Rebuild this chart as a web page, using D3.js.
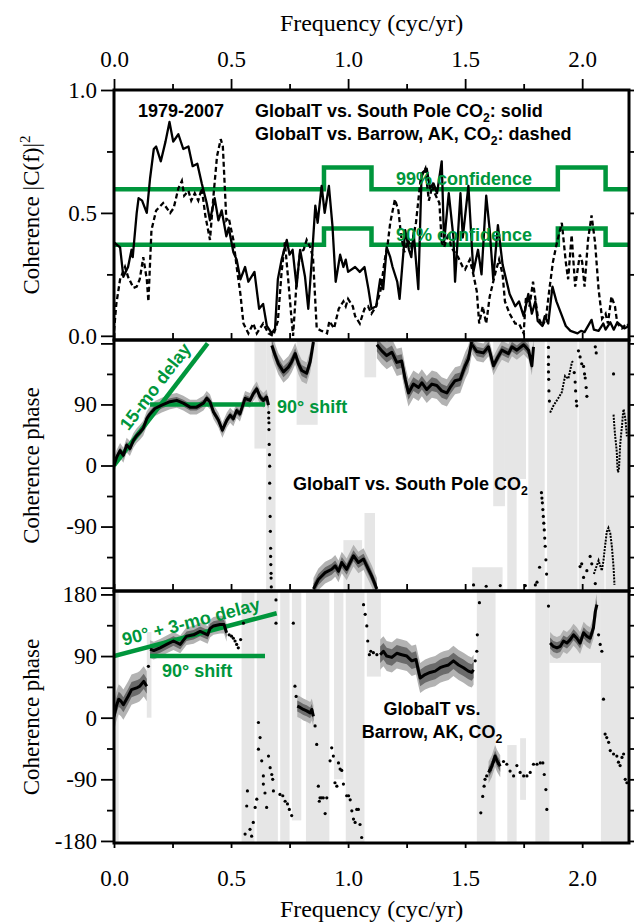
<!DOCTYPE html>
<html>
<head>
<meta charset="utf-8">
<script src="https://cdn.jsdelivr.net/npm/d3@7"></script>
<style>
  body { margin: 0; background: #fff; }
  svg text { font-family: "Liberation Serif", "DejaVu Serif", "Times New Roman", Times, serif; }
  svg text.ann { font-family: "Liberation Sans", Arial, Helvetica, sans-serif; font-weight: bold; }
</style>
</head>
<body>
<svg id="chart" width="639" height="923"></svg>
<script>
// ---- data (frequency in cyc/yr) ----
const freqTicks = [0, 0.5, 1.0, 1.5, 2.0];
const freqMinor = [0.25, 0.75, 1.25, 1.75];
const cohTicks = [0, 0.5, 1.0];
const cohMinor = [0.25, 0.75];
const phaseTicks = [-180, -90, 0, 90, 180];
const phaseMinor = [-135, -45, 45, 135];

// coherence, GlobalT vs South Pole CO2 (solid)
const cohSouthPole = [[0,0.38],[0.026,0.36],[0.04,0.24],[0.06,0.28],[0.075,0.35],[0.08,0.32],[0.097,0.50],[0.105,0.56],[0.12,0.55],[0.14,0.50],[0.154,0.64],[0.17,0.76],[0.18,0.77],[0.2,0.71],[0.22,0.79],[0.237,0.87],[0.253,0.79],[0.275,0.82],[0.296,0.76],[0.318,0.77],[0.336,0.69],[0.356,0.70],[0.375,0.62],[0.396,0.54],[0.41,0.47],[0.43,0.56],[0.446,0.47],[0.46,0.51],[0.48,0.405],[0.49,0.44],[0.51,0.34],[0.524,0.31],[0.54,0.23],[0.56,0.28],[0.574,0.22],[0.60,0.26],[0.62,0.11],[0.637,0.13],[0.653,0.04],[0.674,0.01],[0.688,0.03],[0.70,0.23],[0.716,0.31],[0.738,0.39],[0.75,0.33],[0.763,0.35],[0.78,0.20],[0.795,0.35],[0.816,0.24],[0.83,0.11],[0.845,0.31],[0.86,0.53],[0.87,0.46],[0.887,0.61],[0.90,0.50],[0.918,0.61],[0.933,0.45],[0.947,0.22],[0.966,0.33],[0.98,0.28],[0.99,0.31],[1.0,0.26],[1.03,0.28],[1.05,0.26],[1.07,0.28],[1.087,0.19],[1.10,0.11],[1.12,0.12],[1.137,0.23],[1.15,0.19],[1.165,0.36],[1.18,0.32],[1.19,0.28],[1.21,0.22],[1.22,0.15],[1.244,0.43],[1.26,0.35],[1.27,0.32],[1.28,0.42],[1.30,0.19],[1.314,0.66],[1.336,0.68],[1.35,0.60],[1.365,0.62],[1.38,0.58],[1.40,0.71],[1.41,0.38],[1.43,0.58],[1.45,0.40],[1.457,0.22],[1.48,0.58],[1.49,0.40],[1.514,0.61],[1.535,0.26],[1.555,0.35],[1.57,0.25],[1.59,0.57],[1.605,0.43],[1.62,0.23],[1.64,0.45],[1.66,0.29],[1.67,0.25],[1.69,0.17],[1.714,0.12],[1.73,0.14],[1.75,0.08],[1.77,0.17],[1.785,0.09],[1.80,0.14],[1.81,0.06],[1.83,0.04],[1.84,0.08],[1.855,0.05],[1.873,0.20],[1.89,0.14],[1.91,0.09],[1.93,0.04],[1.95,0.02],[1.98,0.01],[1.995,0.02],[2.01,0.015],[2.04,0.065],[2.05,0.025],[2.07,0.02],[2.09,0.05],[2.10,0.025],[2.12,0.055],[2.135,0.025],[2.15,0.055],[2.18,0.03],[2.2,0.04]];

// coherence, GlobalT vs Barrow CO2 (dashed)
const cohBarrow = [[0,0.02],[0.01,0.13],[0.026,0.23],[0.047,0.28],[0.06,0.24],[0.083,0.195],[0.097,0.20],[0.11,0.23],[0.125,0.32],[0.14,0.23],[0.147,0.14],[0.16,0.43],[0.18,0.51],[0.21,0.54],[0.24,0.50],[0.255,0.52],[0.275,0.60],[0.29,0.63],[0.30,0.57],[0.318,0.59],[0.33,0.55],[0.345,0.58],[0.36,0.55],[0.375,0.60],[0.39,0.49],[0.41,0.39],[0.425,0.57],[0.44,0.73],[0.456,0.80],[0.465,0.77],[0.48,0.47],[0.49,0.48],[0.51,0.39],[0.524,0.28],[0.54,0.17],[0.553,0.05],[0.574,0.01],[0.595,0.05],[0.61,0.01],[0.637,0.05],[0.66,0.01],[0.68,0.0],[0.70,0.06],[0.716,0.26],[0.73,0.38],[0.745,0.22],[0.76,0.05],[0.765,0.0],[0.78,0.22],[0.795,0.34],[0.81,0.35],[0.823,0.39],[0.838,0.36],[0.85,0.32],[0.866,0.03],[0.887,0.02],[0.91,0.01],[0.92,0.06],[0.94,0.03],[0.96,0.11],[0.98,0.14],[0.99,0.12],[1.0,0.15],[1.02,0.12],[1.03,0.08],[1.05,0.05],[1.07,0.11],[1.085,0.12],[1.10,0.09],[1.12,0.12],[1.14,0.19],[1.155,0.30],[1.17,0.38],[1.18,0.46],[1.20,0.555],[1.215,0.51],[1.226,0.41],[1.24,0.34],[1.256,0.39],[1.27,0.36],[1.29,0.46],[1.31,0.64],[1.33,0.68],[1.345,0.55],[1.36,0.61],[1.37,0.58],[1.39,0.54],[1.40,0.38],[1.41,0.36],[1.43,0.42],[1.44,0.36],[1.47,0.32],[1.49,0.28],[1.50,0.27],[1.52,0.31],[1.535,0.25],[1.55,0.18],[1.56,0.05],[1.575,0.12],[1.59,0.05],[1.605,0.16],[1.63,0.26],[1.645,0.31],[1.66,0.25],[1.67,0.14],[1.69,0.09],[1.714,0.05],[1.73,0.05],[1.75,0.01],[1.76,0.16],[1.775,0.12],[1.79,0.22],[1.81,0.08],[1.83,0.04],[1.845,0.07],[1.86,0.19],[1.875,0.30],[1.89,0.37],[1.913,0.46],[1.93,0.30],[1.94,0.23],[1.955,0.41],[1.97,0.20],[1.99,0.33],[2.0,0.30],[2.01,0.20],[2.025,0.39],[2.04,0.49],[2.055,0.38],[2.07,0.19],[2.085,0.07],[2.10,0.09],[2.11,0.05],[2.125,0.16],[2.14,0.12],[2.15,0.05],[2.17,0.03],[2.19,0.05],[2.2,0.04]];

// confidence levels (step breakpoints)
const conf99 = [[0,0.596],[0.897,0.685],[1.10,0.596],[1.896,0.685],[2.10,0.596],[2.2,0.596]];
const conf90 = [[0,0.37],[0.897,0.437],[1.10,0.37],[1.896,0.437],[2.10,0.37],[2.2,0.37]];

// phase, GlobalT vs South Pole CO2 (degrees)
const spCurves = [
  [[0,0],[0.011,12],[0.026,22],[0.04,15],[0.054,30],[0.068,25],[0.083,37],[0.097,44],[0.111,49],[0.125,55],[0.14,69],[0.154,76],[0.175,84],[0.204,89],[0.239,94],[0.268,96],[0.296,92],[0.325,86],[0.353,86],[0.382,92],[0.396,99],[0.41,94],[0.425,79],[0.446,67],[0.463,52],[0.482,67],[0.496,74],[0.51,69],[0.524,81],[0.538,76],[0.56,99],[0.581,96],[0.595,106],[0.61,113],[0.624,101],[0.638,96],[0.652,101],[0.66,89]],
  [[0.674,177],[0.688,163],[0.702,150],[0.724,138],[0.745,145],[0.759,153],[0.774,165],[0.788,150],[0.802,140],[0.823,136],[0.838,153],[0.852,182]],
  [[0.852,-182],[0.873,-168],[0.902,-158],[0.93,-153],[0.945,-148],[0.959,-156],[0.973,-143],[0.994,-153],[1.023,-133],[1.044,-143],[1.066,-138],[1.087,-153],[1.101,-163],[1.123,-182]],
  [[1.123,178],[1.144,169],[1.165,162],[1.187,167],[1.208,152],[1.229,154],[1.244,127],[1.258,107],[1.279,120],[1.301,115],[1.315,122],[1.336,112],[1.358,120],[1.379,118],[1.40,110],[1.422,107],[1.436,115],[1.457,125],[1.479,127],[1.50,147],[1.514,157],[1.528,182]],
  [[1.53,178],[1.55,168],[1.578,166],[1.60,175],[1.621,147],[1.64,160],[1.657,170],[1.685,165],[1.70,175],[1.721,170],[1.75,178],[1.771,170],[1.785,147],[1.792,175]]
];
const spThin = [
  [[1.863,78],[1.877,88],[1.899,100],[1.913,108],[1.927,132],[1.941,128],[1.956,152],[1.963,155]],
  [[2.134,75],[2.138,55],[2.141,43],[2.145,30],[2.148,19],[2.150,0],[2.153,-10],[2.157,-6],[2.160,15],[2.162,29],[2.166,45],[2.170,58],[2.174,75],[2.177,83],[2.181,75],[2.184,70],[2.188,55],[2.191,43]],
  [[2.05,-160],[2.06,-150],[2.07,-140],[2.077,-148],[2.084,-155],[2.091,-140],[2.098,-118],[2.105,-98],[2.112,-92],[2.12,-100],[2.127,-120],[2.134,-150],[2.138,-176]]
];
const spDots = [[0.661,78],[0.661,70],[0.662,63],[0.662,53],[0.663,31],[0.664,16],[0.665,-1],[0.665,-26],[0.666,-48],[0.667,-75],[0.668,-97],[0.669,-122],[0.669,-134],[0.670,-146],[0.671,-159],[0.671,-166],[0.672,-179],
  [1.536,-176],[1.59,-178],[1.65,-177],[1.757,-177],[1.80,-176],[1.807,-172],[1.818,-150],
  [1.826,-40],[1.828,-48],[1.830,-55],[1.832,-65],[1.834,-75],[1.836,-85],[1.838,-95],[1.840,-107],[1.842,-119],[1.845,-139],[1.848,-160],
  [1.856,174],[1.856,160],[1.856,149],[1.856,138],[1.857,127],[1.858,110],[1.86,95],
  [1.966,137],[1.970,123],[1.972,110],[1.975,95],[1.977,88],[1.984,169],[1.991,160],[1.998,150],[2.006,146],[2.010,135],[2.013,129],[2.017,115],[2.020,102],[2.056,175],[2.060,166],[2.134,135],
  [1.991,-149],[1.998,-145],[2.006,-165],[2.020,-155],[2.034,-134],[2.041,-145],[2.056,-174]];
const spBands = [[0.60,0.65,25,185],[0.65,0.69,-185,185],[0.78,0.87,60,185],[0.98,1.06,-185,-110],[1.07,1.115,-185,-70],[1.07,1.12,130,185],[1.53,1.66,-185,-150],[1.62,1.67,-60,185],[1.67,1.76,-20,185],[1.68,1.72,-185,-20],[1.77,1.84,-185,185],[1.85,1.98,-185,185],[1.985,2.095,-185,185],[2.10,2.2,-185,185]];

// phase, GlobalT vs Barrow CO2 (degrees)
const brCurves = [
  [[0,2],[0.01,17],[0.02,27],[0.03,24],[0.04,19],[0.06,31],[0.075,41],[0.10,44],[0.11,46],[0.127,53],[0.14,46]],
  [[0.154,100],[0.17,98],[0.197,102],[0.225,107],[0.254,112],[0.283,107],[0.31,119],[0.34,121],[0.368,126],[0.40,121],[0.41,130],[0.425,134],[0.453,136],[0.47,136],[0.481,124]],
  [[0.783,17],[0.795,15],[0.809,12],[0.823,10],[0.838,7],[0.845,12],[0.852,2]],
  [[1.137,92],[1.151,97],[1.165,90],[1.187,88],[1.208,94],[1.229,92],[1.251,90],[1.272,83],[1.29,85],[1.301,68],[1.308,58],[1.329,63],[1.350,66],[1.372,68],[1.393,73],[1.408,75],[1.429,77],[1.450,83],[1.472,77],[1.493,73],[1.514,68],[1.528,66],[1.536,70]],
  [[1.60,-80],[1.614,-71],[1.628,-56],[1.636,-63],[1.650,-71]],
  [[1.863,109],[1.877,104],[1.892,102],[1.906,104],[1.920,112],[1.935,109],[1.949,114],[1.963,121],[1.977,116],[1.991,109],[2.006,124],[2.020,119],[2.034,116],[2.048,131],[2.056,155],[2.063,165]]
];
const brDots = [[0.147,75],[0.492,121],[0.502,119],[0.51,116],[0.517,112],[0.524,107],[0.531,102],[0.541,114],
  [0.553,138],[0.560,-170],[0.567,-129],[0.570,-107],[0.581,-163],[0.588,-173],[0.595,-153],[0.603,-131],[0.610,-119],[0.617,-46],[0.617,-7],[0.624,-29],[0.631,-63],[0.638,-85],[0.638,-97],[0.645,-110],[0.652,-131],[0.660,-56],[0.667,-73],[0.674,-83],[0.678,-90],[0.681,-107],[0.692,138],[0.692,172],[0.709,-112],[0.721,-114],[0.731,-122],[0.741,-126],[0.749,-134],[0.759,-143],[0.766,138],[0.773,46],[0.778,31],
  [0.859,-12],[0.866,-39],[0.873,-100],[0.877,-122],[0.880,-117],[0.887,-117],[0.894,-117],[0.902,-140],[0.909,-117],[0.923,-63],[0.930,-44],[0.937,-56],[0.944,-95],[0.952,-100],[0.959,-66],[0.966,-75],[0.973,-77],[0.980,-97],[0.994,-114],[1.002,-114],[1.009,-120],[1.016,-136],[1.023,-148],[1.030,-153],[1.037,-134],[1.044,-134],[1.051,-156],[1.058,-175],[1.066,165],[1.073,151],[1.080,134],[1.084,112],[1.091,92],[1.097,97],[1.108,95],[1.123,92],
  [1.543,83],[1.550,97],[1.552,121],[1.561,168],[1.567,-139],[1.575,-115],[1.581,-100],[1.585,-90],[1.592,-85],[1.607,-76],[1.621,-64],[1.643,-67],[1.664,-64],[1.678,-68],[1.692,-78],[1.707,-85],[1.721,-70],[1.735,-80],[1.75,-85],[1.764,-85],[1.778,-80],[1.792,-68],[1.807,-68],[1.821,-66],[1.832,-66],[1.838,-83],[1.845,-105],[1.849,-134],[1.856,163],
  [2.070,121],[2.077,107],[2.084,97],[2.091,27],[2.098,-24],[2.105,-29],[2.113,-36],[2.120,-48],[2.134,-53],[2.148,-56],[2.155,-65],[2.162,-70],[2.170,-58],[2.177,-53],[2.184,-90],[2.191,-95]];
const brBands = [[0.0,0.02,-183,185],[0.14,0.16,0,125],[0.545,0.60,-183,185],[0.61,0.70,-183,185],[0.71,0.75,-183,185],[0.76,0.80,-150,185],[0.82,0.92,-183,185],[0.94,0.98,-90,185],[0.99,1.07,-183,185],[1.08,1.14,60,185],[1.55,1.63,-183,185],[1.68,1.72,-183,-40],[1.735,1.76,-120,-30],[1.80,1.86,-183,185],[1.86,2.08,80,185],[2.08,2.2,-183,185]];

// reference lines
const delaySp = [[0,0],[0.4,180]];        // 15-month delay
const shiftSp = [[0.154,90],[0.645,90]];
const delayBr = [[0,90],[0.695,152.5]];    // 90 deg + 3-month delay
const shiftBr = [[0.154,90],[0.645,90]];

// ---- layout ----
const svg = d3.select("#chart");
const green = "#00963c";
const serif = "'Liberation Serif', 'DejaVu Serif', 'Times New Roman', Times, serif";
const x = d3.scaleLinear().domain([0, 2.2]).range([114, 629]);
const yCoh = d3.scaleLinear().domain([-0.017, 1]).range([340, 90]);
const ySp = d3.scaleLinear().domain([-185, 185]).range([591, 340]);
const yBr = d3.scaleLinear().domain([-183, 185]).range([843, 591]);
// envelope half-widths (outer, inner) in degrees, one per curve
const spEnv = [[11, 5], [16, 8], [16, 8], [20, 10], [14, 7]];
const brEnv = [[22, 11], [13, 7], [16, 8], [22, 12], [16, 8], [16, 8]];

function addClip(id, y) {
  svg.append("clipPath").attr("id", id).append("rect")
    .attr("x", x.range()[0]).attr("y", y.range()[1])
    .attr("width", x.range()[1] - x.range()[0])
    .attr("height", y.range()[0] - y.range()[1]);
}
addClip("cCoh", yCoh); addClip("cSp", ySp); addClip("cBr", yBr);

function subText(sel, parts) {
  let shift = 0;
  parts.forEach(([t, sub]) => {
    const ts = sel.append("tspan").text(t);
    if (sub) { ts.attr("font-size", "0.68em").attr("dy", 5); shift = 5; }
    else if (shift) { ts.attr("dy", -shift); shift = 0; }
  });
}

// ---- coherence panel ----
const gc = svg.append("g").attr("clip-path", "url(#cCoh)");
const step = d3.line().x(d => x(d[0])).y(d => yCoh(d[1])).curve(d3.curveStepAfter);
[conf99, conf90].forEach(c => gc.append("path").datum(c).attr("d", step)
  .attr("fill", "none").attr("stroke", green).attr("stroke-width", 4.5));
svg.append("text").attr("class", "ann").attr("x", 464).attr("y", 185).attr("text-anchor", "middle")
  .attr("font-size", 18).attr("fill", green).text("99% confidence");
svg.append("text").attr("class", "ann").attr("x", 464).attr("y", 241).attr("text-anchor", "middle")
  .attr("font-size", 18).attr("fill", green).text("90% confidence");
const cohLine = d3.line().x(d => x(d[0])).y(d => yCoh(d[1]));
gc.append("path").datum(cohBarrow).attr("d", cohLine).attr("fill", "none")
  .attr("stroke", "#000").attr("stroke-width", 2.3).attr("stroke-dasharray", "5,3");
gc.append("path").datum(cohSouthPole).attr("d", cohLine).attr("fill", "none")
  .attr("stroke", "#000").attr("stroke-width", 2.3).attr("stroke-linejoin", "round");

svg.append("text").attr("class", "ann").attr("x", 138).attr("y", 117).attr("font-size", 18).text("1979-2007");
subText(svg.append("text").attr("class", "ann").attr("x", 255).attr("y", 117).attr("font-size", 18),
  [["GlobalT vs. South Pole CO"], ["2", true], [": solid"]]);
subText(svg.append("text").attr("class", "ann").attr("x", 255).attr("y", 140).attr("font-size", 18),
  [["GlobalT vs. Barrow, AK, CO"], ["2", true], [": dashed"]]);

// ---- phase panels ----
function phasePanel(clipId, y, bands, curves, envW, thin, dots) {
  const g = svg.append("g").attr("clip-path", `url(#${clipId})`);
  g.selectAll("rect").data(bands).join("rect")
    .attr("x", d => x(d[0])).attr("width", d => x(d[1]) - x(d[0]))
    .attr("y", d => y(d[3])).attr("height", d => y(d[2]) - y(d[3]))
    .attr("fill", "#e6e6e6");
  const env = w => d3.area().x(d => x(d[0])).y0(d => y(d[1] - w)).y1(d => y(d[1] + w));
  curves.forEach((c, i) => {
    g.append("path").datum(c).attr("d", env(envW[i][0])).attr("fill", "#b3b3b3");
    g.append("path").datum(c).attr("d", env(envW[i][1])).attr("fill", "#6b6b6b");
  });
  const gl = svg.append("g").attr("clip-path", `url(#${clipId})`);
  const gk = svg.append("g").attr("clip-path", `url(#${clipId})`);
  const ln = d3.line().x(d => x(d[0])).y(d => y(d[1]));
  curves.forEach(c => gk.append("path").datum(c).attr("d", ln).attr("fill", "none")
    .attr("stroke", "#000").attr("stroke-width", 3).attr("stroke-linejoin", "round"));
  thin.forEach(c => gk.append("path").datum(c).attr("d", ln).attr("fill", "none")
    .attr("stroke", "#000").attr("stroke-width", 2).attr("stroke-dasharray", "2,1.2"));
  gk.selectAll("circle").data(dots).join("circle")
    .attr("cx", d => x(d[0])).attr("cy", d => y(d[1])).attr("r", 1.6).attr("fill", "#000");
  return gl;
}

function greenLine(g, y, data) {
  g.append("path").datum(data)
    .attr("d", d3.line().x(d => x(d[0])).y(d => y(d[1])))
    .attr("stroke", green).attr("stroke-width", 4.5).attr("fill", "none");
}
function angleOf(y, data) {
  return Math.atan2(y(data[1][1]) - y(data[0][1]), x(data[1][0]) - x(data[0][0])) * 180 / Math.PI;
}

const glSp = phasePanel("cSp", ySp, spBands, spCurves, spEnv, spThin, spDots);
greenLine(glSp, ySp, delaySp);
greenLine(glSp, ySp, shiftSp);
svg.append("text").attr("class", "ann").attr("font-size", 18).attr("fill", green)
  .attr("transform", `translate(${x(0.062)},${ySp(50)}) rotate(${angleOf(ySp, delaySp)})`)
  .text("15-mo delay");
svg.append("text").attr("class", "ann").attr("font-size", 18).attr("fill", green)
  .attr("x", 277).attr("y", 413).text("90° shift");
subText(svg.append("text").attr("class", "ann").attr("x", 293).attr("y", 490).attr("font-size", 18),
  [["GlobalT vs. South Pole CO"], ["2", true]]);

const glBr = phasePanel("cBr", yBr, brBands, brCurves, brEnv, [], brDots);
greenLine(glBr, yBr, delayBr);
greenLine(glBr, yBr, shiftBr);
svg.append("text").attr("class", "ann").attr("font-size", 18).attr("fill", green)
  .attr("transform", `translate(${x(0.043)},${yBr(105)}) rotate(${angleOf(yBr, delayBr)})`)
  .text("90° + 3-mo delay");
svg.append("text").attr("class", "ann").attr("font-size", 18).attr("fill", green)
  .attr("x", 162).attr("y", 677).text("90° shift");
svg.append("text").attr("class", "ann").attr("x", 432).attr("y", 715).attr("font-size", 18)
  .attr("text-anchor", "middle").text("GlobalT vs.");
subText(svg.append("text").attr("class", "ann").attr("x", 432).attr("y", 738).attr("font-size", 18)
  .attr("text-anchor", "middle"), [["Barrow, AK, CO"], ["2", true]]);

// ---- axes ----
function styleAxis(g) {
  g.attr("font-family", null);
  g.select(".domain").remove();
  g.selectAll("line").attr("stroke", "#000").attr("stroke-width", 1.8);
  g.selectAll("text").attr("font-size", 23).attr("fill", "#000").style("font-family", serif);
  return g;
}
function yAxes(y, major, minor, fmt, labels) {
  svg.append("g").attr("transform", `translate(${x.range()[0]},0)`)
    .call(d3.axisLeft(y).tickValues(major).tickSize(13).tickPadding(4)
      .tickFormat(d => labels.includes(d) ? fmt(d) : "")).call(styleAxis);
  svg.append("g").attr("transform", `translate(${x.range()[0]},0)`)
    .call(d3.axisLeft(y).tickValues(minor).tickSize(7).tickFormat("")).call(styleAxis);
  svg.append("g").attr("transform", `translate(${x.range()[1]},0)`)
    .call(d3.axisRight(y).tickValues(major.concat(minor)).tickSize(5).tickFormat("")).call(styleAxis);
}
yAxes(yCoh, cohTicks, cohMinor, d3.format(".1f"), cohTicks);
yAxes(ySp, phaseTicks, phaseMinor, d => String(d), [-90, 0, 90]);
yAxes(yBr, phaseTicks, phaseMinor, d => String(d), phaseTicks);

const allFreq = freqTicks.concat(freqMinor);
svg.append("g").attr("transform", `translate(0,${yCoh.range()[1]})`)
  .call(d3.axisTop(x).tickValues(freqTicks).tickSize(11).tickPadding(12).tickFormat(d3.format(".1f"))).call(styleAxis);
svg.append("g").attr("transform", `translate(0,${yCoh.range()[1]})`)
  .call(d3.axisTop(x).tickValues(freqMinor).tickSize(6).tickFormat("")).call(styleAxis);
[ySp.range()[1], yBr.range()[1]].forEach(yy =>
  svg.append("g").attr("transform", `translate(0,${yy})`)
    .call(d3.axisTop(x).tickValues(allFreq).tickSize(7).tickFormat("")).call(styleAxis));
svg.append("g").attr("transform", `translate(0,${yBr.range()[0]})`)
  .call(d3.axisBottom(x).tickValues(freqTicks).tickSize(5).tickPadding(22).tickFormat(d3.format(".1f"))).call(styleAxis);
svg.append("g").attr("transform", `translate(0,${yBr.range()[0]})`)
  .call(d3.axisBottom(x).tickValues(freqMinor).tickSize(5).tickFormat("")).call(styleAxis);

// frames
[yCoh, ySp, yBr].forEach(y => svg.append("rect")
  .attr("x", x.range()[0]).attr("y", y.range()[1])
  .attr("width", x.range()[1] - x.range()[0]).attr("height", y.range()[0] - y.range()[1])
  .attr("fill", "none").attr("stroke", "#000").attr("stroke-width", 3));

// titles
const midX = (x.range()[0] + x.range()[1]) / 2;
svg.append("text").attr("x", midX).attr("y", 31).attr("text-anchor", "middle").attr("font-size", 24)
  .style("font-family", serif).text("Frequency (cyc/yr)");
svg.append("text").attr("x", midX).attr("y", 917).attr("text-anchor", "middle").attr("font-size", 24)
  .style("font-family", serif).text("Frequency (cyc/yr)");
const cohTitle = svg.append("text").attr("transform", `translate(39,${(yCoh.range()[0] + yCoh.range()[1]) / 2}) rotate(-90)`)
  .attr("text-anchor", "middle").attr("font-size", 23).style("font-family", serif);
cohTitle.append("tspan").text("Coherence |C(f)|");
cohTitle.append("tspan").attr("font-size", 15).attr("dy", -9).text("2");
[ySp, yBr].forEach(y => svg.append("text")
  .attr("transform", `translate(39,${(y.range()[0] + y.range()[1]) / 2}) rotate(-90)`)
  .attr("text-anchor", "middle").attr("font-size", 23).style("font-family", serif).text("Coherence phase"));
</script>
</body>
</html>
